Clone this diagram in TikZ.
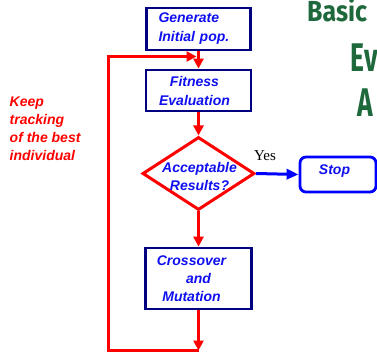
\documentclass[tikz,border=0pt]{standalone}
\usepackage{fontspec}
\setmainfont{Liberation Sans}
\newfontfamily\serifyes{Liberation Serif}
\newfontfamily\titlefont{Fira Sans}
\usetikzlibrary{arrows.meta,shapes.geometric}
\definecolor{navy}{RGB}{0,0,128}
\definecolor{txtblue}{RGB}{15,15,240}
\definecolor{lred}{RGB}{255,0,0}
\definecolor{lblue}{RGB}{0,0,255}
\definecolor{tgreen}{RGB}{30,105,60}
\tikzset{
  procbox/.style={rectangle, draw=navy, line width=2.8pt, fill=white, inner sep=0pt,
    text=txtblue, font=\fontsize{14}{19}\selectfont\bfseries\itshape},
  decision/.style={diamond, draw=lred, line width=3pt, fill=white, inner sep=0pt},
  dectext/.style={inner sep=0pt, align=center, text=txtblue,
    font=\fontsize{14}{18}\selectfont\bfseries\itshape},
  stopbox/.style={rectangle, rounded corners=6pt, draw=lblue, line width=2.8pt, fill=white,
    inner sep=0pt, text=txtblue, font=\fontsize{14}{19}\selectfont\bfseries\itshape},
  redflow/.style={draw=lred, line width=3pt, -{Triangle[length=10pt,width=10pt]}},
  blueflow/.style={draw=lblue, line width=3pt, -{Triangle[length=12pt,width=10pt]}},
  notetext/.style={inner sep=0pt, align=left, text=lred,
    font=\fontsize{14}{18}\selectfont\bfseries\itshape},
  yeslabel/.style={inner sep=0pt, font=\serifyes\fontsize{15}{18}\selectfont},
  titletext/.style={inner sep=0pt, text=tgreen, font=\titlefont\bfseries\fontsize{40}{40}\selectfont},
  titlesmall/.style={inner sep=0pt, text=tgreen, font=\titlefont\bfseries\fontsize{29}{29}\selectfont}
}
\begin{document}
\begin{tikzpicture}[x=1pt,y=-1pt]
\path[use as bounding box] (0,0) rectangle (377,352);
\clip (0,0) rectangle (377,352);

% title (cut by the picture edge)
\node[titlesmall, anchor=base west] (tbasic) at (307,21.5) {\scalebox{0.86}[1]{Basic}};
\node[titletext, anchor=base west] (tev) at (350.5,72) {\scalebox{0.66}[1]{Ev}};
\node[titletext, anchor=base west] (ta) at (357.5,117) {\scalebox{0.66}[1]{A}};

% connector coordinates
\coordinate (join) at (196.5,56.5);
\coordinate (lt) at (108.5,56.5);
\coordinate (lb) at (108.5,350.5);
\coordinate (bot) at (198.5,350.5);

% nodes
\node[procbox, minimum width=104pt, minimum height=42pt, text width=80pt, align=left]
  (gen) at (198.5,29) {Generate\\Initial pop.};
\node[procbox, minimum width=105pt, minimum height=41pt, align=center]
  (fit) at (198.5,90.5) {Fitness\hspace*{8pt}\\Evaluation\hspace*{8pt}};
\node[decision, minimum width=112pt, minimum height=73pt] (acc) at (198.5,173.5) {};
\node[dectext] (acctext) at (199.5,176) {Acceptable\\Results?};
\node[procbox, minimum width=106pt, minimum height=61pt, align=center,
  font=\fontsize{14}{18}\selectfont\bfseries\itshape]
  (cross) at (198.5,278.5) {Crossover\hspace*{14pt}\\and\hspace*{14pt}\\Mutation\hspace*{14pt}};
\node[stopbox, minimum width=76pt, minimum height=35pt, text depth=9pt]
  (stop) at (338,174.5) {Stop\hspace*{7pt}};

\node[notetext, anchor=north west] (keep) at (9.5,96.7) {Keep\\tracking\\of the best\\individual};
\node[yeslabel, anchor=base] (yes) at (265,161) {Yes};

% connectors
\draw[redflow] (gen.south) -- (fit.north);
\draw[redflow] (fit.south) -- (acc.north);
\draw[redflow] (acc.south) -- (cross.north);
\draw[redflow] (cross.south) -- (bot);
\draw[redflow] (bot) -- (lb) -- (lt) -- (join);
\draw[blueflow] (acc.east) -- (stop.west);
\end{tikzpicture}
\end{document}
